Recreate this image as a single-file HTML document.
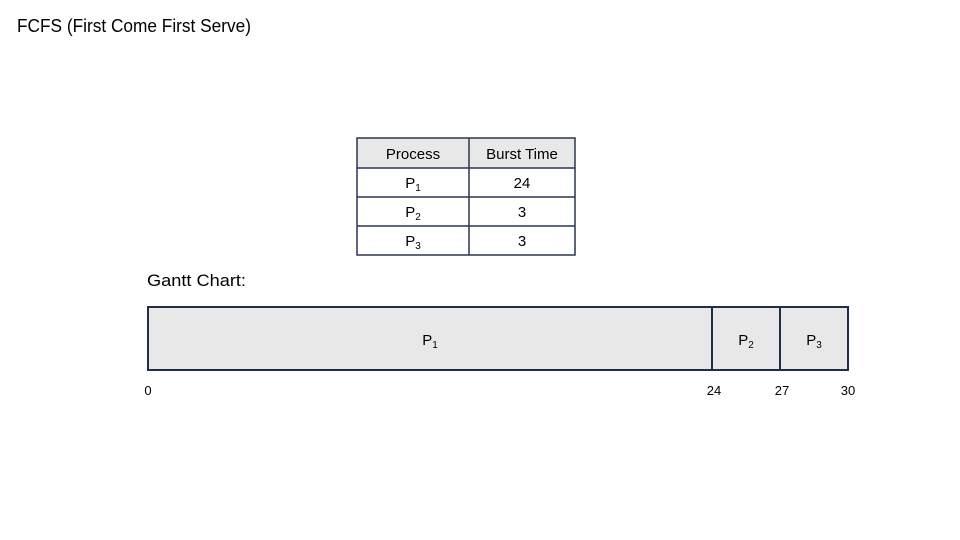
<!DOCTYPE html>
<html><head><style>body{margin:0;background:#fff}svg{display:block}</style></head><body>
<svg width="960" height="540" xmlns="http://www.w3.org/2000/svg" font-family="Liberation Sans, DejaVu Sans, sans-serif" fill="#000">
<text x="17" y="32" font-size="18" textLength="234" lengthAdjust="spacingAndGlyphs">FCFS (First Come First Serve)</text>
<rect x="357" y="138" width="218" height="30" fill="#e8e8e8"/>
<g stroke="#2a3550" stroke-width="1.5" fill="none">
<rect x="357" y="138" width="218" height="117"/>
<line x1="469" y1="138" x2="469" y2="255"/>
<line x1="357" y1="168" x2="575" y2="168"/>
<line x1="357" y1="197" x2="575" y2="197"/>
<line x1="357" y1="226" x2="575" y2="226"/>
</g>
<g font-size="15" text-anchor="middle">
<text x="413" y="159">Process</text><text x="522" y="159">Burst Time</text>
<text x="413" y="188">P<tspan font-size="10" dy="3">1</tspan></text><text x="522" y="188">24</text>
<text x="413" y="217">P<tspan font-size="10" dy="3">2</tspan></text><text x="522" y="217">3</text>
<text x="413" y="246">P<tspan font-size="10" dy="3">3</tspan></text><text x="522" y="246">3</text>
</g>
<text x="147" y="286" font-size="17" textLength="99" lengthAdjust="spacingAndGlyphs">Gantt Chart:</text>
<g stroke="#1f2d4a" stroke-width="2" fill="#e8e8e8">
<rect x="148" y="307" width="564" height="63"/>
<rect x="712" y="307" width="68" height="63"/>
<rect x="780" y="307" width="68" height="63"/>
</g>
<g font-size="15" text-anchor="middle">
<text x="430" y="345">P<tspan font-size="10" dy="3">1</tspan></text>
<text x="746" y="345">P<tspan font-size="10" dy="3">2</tspan></text>
<text x="814" y="345">P<tspan font-size="10" dy="3">3</tspan></text>
<text x="148" y="395" font-size="13">0</text>
<text x="714" y="395" font-size="13">24</text>
<text x="782" y="395" font-size="13">27</text>
<text x="848" y="395" font-size="13">30</text>
</g>
</svg>
</body></html>
